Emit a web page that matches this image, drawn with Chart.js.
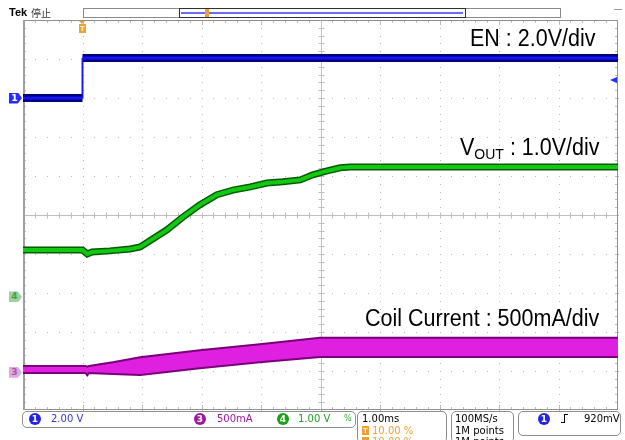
<!DOCTYPE html>
<html>
<head>
<meta charset="utf-8">
<script src="https://cdn.jsdelivr.net/npm/chart.js@4.4.0/dist/chart.umd.min.js"></script>
<style>
  body { margin: 0; background: #fff; }
  #wrap { position: relative; width: 625px; height: 440px; overflow: hidden; font-family: "Liberation Sans", Arial, sans-serif; }
  #scope { position: absolute; left: 0; top: 0; }
  .abs { position: absolute; white-space: nowrap; }
  .big { font-size: 21.5px; line-height: 21.5px; color: #000; transform: scaleY(1.1); transform-origin: left 85%; }
  .big sub { font-size: 14px; vertical-align: -3px; }
  .st { font-family: "DejaVu Sans", sans-serif; font-size: 10px; line-height: 10px; }
  .box { position: absolute; border: 1px solid #8c8c8c; border-radius: 5px; }
  .dot { position: absolute; width: 12px; height: 12px; border-radius: 6px; color: #fff; font: bold 9px/12px "DejaVu Sans", sans-serif; text-align: center; }
  .mark { position: absolute; width: 13px; height: 11px; font: bold 9px/11px "DejaVu Sans", sans-serif; text-align: center; text-indent: -2px;
          clip-path: polygon(0 0, 68% 0, 100% 50%, 68% 100%, 0 100%); }
</style>
</head>
<body>
<div id="wrap">
  <canvas id="scope" width="625" height="440"></canvas>

  <div class="abs" style="left:9px;top:7px;font:bold 11px/11px 'Liberation Sans',sans-serif;">Tek</div>
  <div class="abs" style="left:31px;top:7px;font:10px/11px 'Noto Sans CJK SC',sans-serif;color:#333;">停止</div>
  <div class="abs" style="left:83px;top:8px;width:476px;height:8px;border:1px solid #8a8a8a;"></div>
  <div class="abs" style="left:179px;top:8px;width:285px;height:8px;border:1px solid #303030;"></div>
  <div class="abs" style="left:181px;top:12px;width:282px;height:2px;background:#6a6aff;"></div>
  <div class="abs" style="left:205px;top:9px;width:4px;height:8px;background:#f0a030;"></div>
  <div class="abs" style="left:614px;top:9px;width:8px;height:1px;background:#999;"></div>

  <div class="abs big" style="left:470px;top:29px;">EN : 2.0V/div</div>
  <div class="abs big" style="left:460px;top:139px;">V<sub>OUT</sub> : 1.0V/div</div>
  <div class="abs big" style="left:365px;top:309px;">Coil Current : 500mA/div</div>

  <div class="box" style="left:22px;top:411px;width:332px;height:15px;"></div>
  <div class="dot" style="left:29px;top:413px;background:#2424e6;">1</div>
  <div class="abs st" style="left:51px;top:414px;color:#3434e0;">2.00 V</div>
  <div class="dot" style="left:194px;top:413px;background:#a018a0;">3</div>
  <div class="abs st" style="left:217px;top:414px;color:#a018a0;">500mA</div>
  <div class="dot" style="left:277px;top:413px;background:#18a018;">4</div>
  <div class="abs st" style="left:298px;top:414px;color:#20a020;">1.00 V</div>
  <div class="abs st" style="left:344px;top:414px;color:#30b030;font-size:8px;">%</div>

  <div class="box" style="left:357px;top:411px;width:88px;height:30px;"></div>
  <div class="abs st" style="left:362px;top:414px;color:#000;">1.00ms</div>
  <div class="abs" style="left:362px;top:426px;width:7px;height:9px;background:#f0a030;color:#fff;font:bold 7px/9px sans-serif;text-align:center;">T</div>
  <div class="abs st" style="left:372px;top:426px;color:#f0a030;">10.00 %</div>
  <div class="abs" style="left:362px;top:437px;width:7px;height:9px;background:#f0a030;"></div>
  <div class="abs st" style="left:372px;top:437px;color:#f0a030;">10.00 %</div>

  <div class="box" style="left:451px;top:411px;width:61px;height:30px;"></div>
  <div class="abs st" style="left:455px;top:414px;color:#000;">100MS/s</div>
  <div class="abs st" style="left:455px;top:426px;color:#000;">1M points</div>
  <div class="abs st" style="left:455px;top:437px;color:#000;">1M points</div>

  <div class="box" style="left:518px;top:411px;width:101px;height:23px;"></div>
  <div class="dot" style="left:538px;top:413px;background:#2424e6;">1</div>
  <div class="abs" style="left:561px;top:415px;width:3px;height:7px;border-bottom:1.5px solid #000;"></div>
  <div class="abs" style="left:564px;top:414px;width:3px;height:8px;border-left:1.5px solid #000;border-top:1.5px solid #000;"></div>
  <div class="abs st" style="left:584px;top:414px;color:#000;">920mV</div>

  <div id="marks"></div>
</div>

<script>
// horizontal: 1.00 ms/div, trigger at 10 % of the record
const timeStartMs = -1;
const timeEndMs = 9;

// channel 1 (EN), 2.00 V/div
const enTimeMs = [-1, 0, 0, 9];
const enVolts = [0, 0, 2.05, 2.05];

// channel 4 (VOUT), 1.00 V/div
const voutTimeMs = [-1, 0.0, 0.08, 0.16, 0.46, 0.80, 0.97, 1.42, 1.69, 1.97, 2.26, 2.53, 2.82, 3.10, 3.37, 3.66, 3.87, 4.11, 4.33, 4.50, 9];
const voutVolts = [1.2, 1.2, 1.1, 1.15, 1.18, 1.23, 1.28, 1.72, 2.05, 2.36, 2.62, 2.74, 2.82, 2.92, 2.95, 3.0, 3.13, 3.23, 3.31, 3.33, 3.33];

// channel 3 (coil current), 500 mA/div, ripple envelope
const coilTimeMs = [-1, 0.05, 0.08, 0.11, 0.51, 0.97, 1.97, 2.98, 3.99, 9];
const coilHighMa = [80, 80, 70, 80, 128, 192, 282, 359, 440, 440];
const coilLowMa = [-10, -10, -40, -10, -25, -35, 51, 128, 195, 195];

// trigger level on channel 1
const triggerMv = 920;

// vertical settings: ground marker (div from bottom) and units per div
const ch1 = { offset: 8.0, perDiv: 2.0 };
const ch4 = { offset: 2.9, perDiv: 1.0 };
const ch3 = { offset: 0.97, perDiv: 500 };

function toPoints(times, values, ch) {
    return times.map((t, i) => ({ x: t, y: ch.offset + values[i] / ch.perDiv }));
}

const enPts = toPoints(enTimeMs, enVolts, ch1);
const voutPts = toPoints(voutTimeMs, voutVolts, ch4);
const coilHi = toPoints(coilTimeMs, coilHighMa, ch3);
const coilLo = toPoints(coilTimeMs, coilLowMa, ch3);

// the fast edge is drawn thin, like the scope does
const thinEdge = w => ({ borderWidth: c => (c.p0.parsed.x === c.p1.parsed.x ? 1.5 : w) });

// graticule: dotted 10 x 10 grid, centre cross and rulers with minor ticks
const scopeGrid = {
    id: 'scopeGrid',
    beforeDatasetsDraw(chart) {
        const { ctx, chartArea: a, scales: { x, y } } = chart;
        const px = v => Math.round(x.getPixelForValue(v)) + 0.5;
        const py = v => Math.round(y.getPixelForValue(v)) + 0.5;
        ctx.save();
        ctx.fillStyle = '#b8b8b8';
        for (let i = 1; i < 10; i++) {
            const gx = px(timeStartMs + i);
            for (let k = 0; k <= 50; k++) ctx.fillRect(gx - 0.5, py(k / 5) - 0.5, 1, 1);
            const gy = py(i);
            for (let k = 0; k <= 50; k++) ctx.fillRect(px(timeStartMs + k / 5) - 0.5, gy - 0.5, 1, 1);
        }
        ctx.strokeStyle = '#bdbdbd';
        ctx.lineWidth = 1;
        const cx = px(timeStartMs + 5), cy = py(5);
        ctx.beginPath();
        ctx.moveTo(a.left, cy); ctx.lineTo(a.right, cy);
        ctx.moveTo(cx, a.top); ctx.lineTo(cx, a.bottom);
        for (let k = 1; k < 50; k++) {
            const tx = px(timeStartMs + k / 5);
            ctx.moveTo(tx, cy - 3); ctx.lineTo(tx, cy + 3);
            ctx.moveTo(tx, a.top); ctx.lineTo(tx, a.top + (k % 5 ? 3 : 5));
            ctx.moveTo(tx, a.bottom); ctx.lineTo(tx, a.bottom - (k % 5 ? 3 : 5));
            const ty = py(k / 5);
            ctx.moveTo(cx - 3, ty); ctx.lineTo(cx + 3, ty);
            ctx.moveTo(a.left, ty); ctx.lineTo(a.left + 3, ty);
            ctx.moveTo(a.right, ty); ctx.lineTo(a.right - 3, ty);
        }
        ctx.stroke();
        ctx.strokeStyle = '#909090';
        ctx.beginPath();
        ctx.moveTo(a.left, a.top + 0.5); ctx.lineTo(a.right, a.top + 0.5);
        ctx.moveTo(a.right - 0.5, a.top); ctx.lineTo(a.right - 0.5, a.bottom);
        ctx.moveTo(a.left, a.bottom - 0.5); ctx.lineTo(a.right, a.bottom - 0.5);
        ctx.stroke();
        ctx.strokeStyle = '#a0a0a0';
        ctx.lineWidth = 2;
        ctx.beginPath();
        ctx.moveTo(a.left + 1, a.top); ctx.lineTo(a.left + 1, a.bottom);
        ctx.stroke();
        ctx.restore();
    }
};

const ctx = document.getElementById('scope').getContext('2d');
const scope = new Chart(ctx, {
    type: 'line',
    data: {
        datasets: [
            { data: enPts, borderColor: '#1414f0', borderWidth: 3, order: 1, segment: thinEdge(3) },
            { data: enPts, borderColor: '#000078', borderWidth: 8, order: 2, segment: thinEdge(8), borderCapStyle: 'butt' },
            { data: voutPts, borderColor: '#12c812', borderWidth: 4, order: 3 },
            { data: voutPts, borderColor: '#005c00', borderWidth: 7, order: 4 },
            { data: coilHi, borderColor: '#7a007a', borderWidth: 2, order: 5 },
            { data: coilLo, borderColor: '#7a007a', borderWidth: 2, order: 6,
              fill: { target: 4 }, backgroundColor: '#e020e0' }
        ]
    },
    options: {
        responsive: false,
        animation: false,
        layout: { padding: { left: 23, right: 7, top: 20, bottom: 30 } },
        plugins: { legend: { display: false }, tooltip: { enabled: false } },
        elements: { point: { radius: 0 }, line: { tension: 0 } },
        scales: {
            x: { type: 'linear', min: timeStartMs, max: timeEndMs, display: false },
            y: { type: 'linear', min: 0, max: 10, display: false }
        }
    },
    plugins: [scopeGrid]
});

// channel ground markers, trigger position and trigger level, placed from the scales
const marks = document.getElementById('marks');
function addMark(ch, bg, fg, label) {
    const d = document.createElement('div');
    d.className = 'mark';
    d.style.left = '9px';
    d.style.top = (scope.scales.y.getPixelForValue(ch.offset) - 5.5) + 'px';
    d.style.background = bg;
    d.style.color = fg;
    d.textContent = label;
    marks.appendChild(d);
}
addMark(ch1, '#2a2aff', '#fff', '1');
addMark(ch4, '#9ad49a', '#4c9a4c', '4');
addMark(ch3, '#e2a6e2', '#a05ca0', '3');

const trigX = scope.scales.x.getPixelForValue(0);
const tMark = document.createElement('div');
tMark.className = 'abs';
tMark.style.cssText = 'left:' + (trigX - 3.5) + 'px;top:24px;width:7px;height:9px;background:#f0a030;color:#fff;font:bold 7px/9px sans-serif;text-align:center;';
tMark.textContent = 'T';
marks.appendChild(tMark);
const tArrow = document.createElement('div');
tArrow.className = 'abs';
tArrow.style.cssText = 'left:' + (trigX - 3.5) + 'px;top:21px;width:0;height:0;border-left:3.5px solid transparent;border-right:3.5px solid transparent;border-top:3px solid #f0a030;';
marks.appendChild(tArrow);

const lvlY = scope.scales.y.getPixelForValue(ch1.offset + triggerMv / 1000 / ch1.perDiv);
const lvl = document.createElement('div');
lvl.className = 'abs';
lvl.style.cssText = 'left:610px;top:' + (lvlY - 3.5) + 'px;width:0;height:0;border-top:3.5px solid transparent;border-bottom:3.5px solid transparent;border-right:7px solid #2030ff;';
marks.appendChild(lvl);
</script>
</body>
</html>
